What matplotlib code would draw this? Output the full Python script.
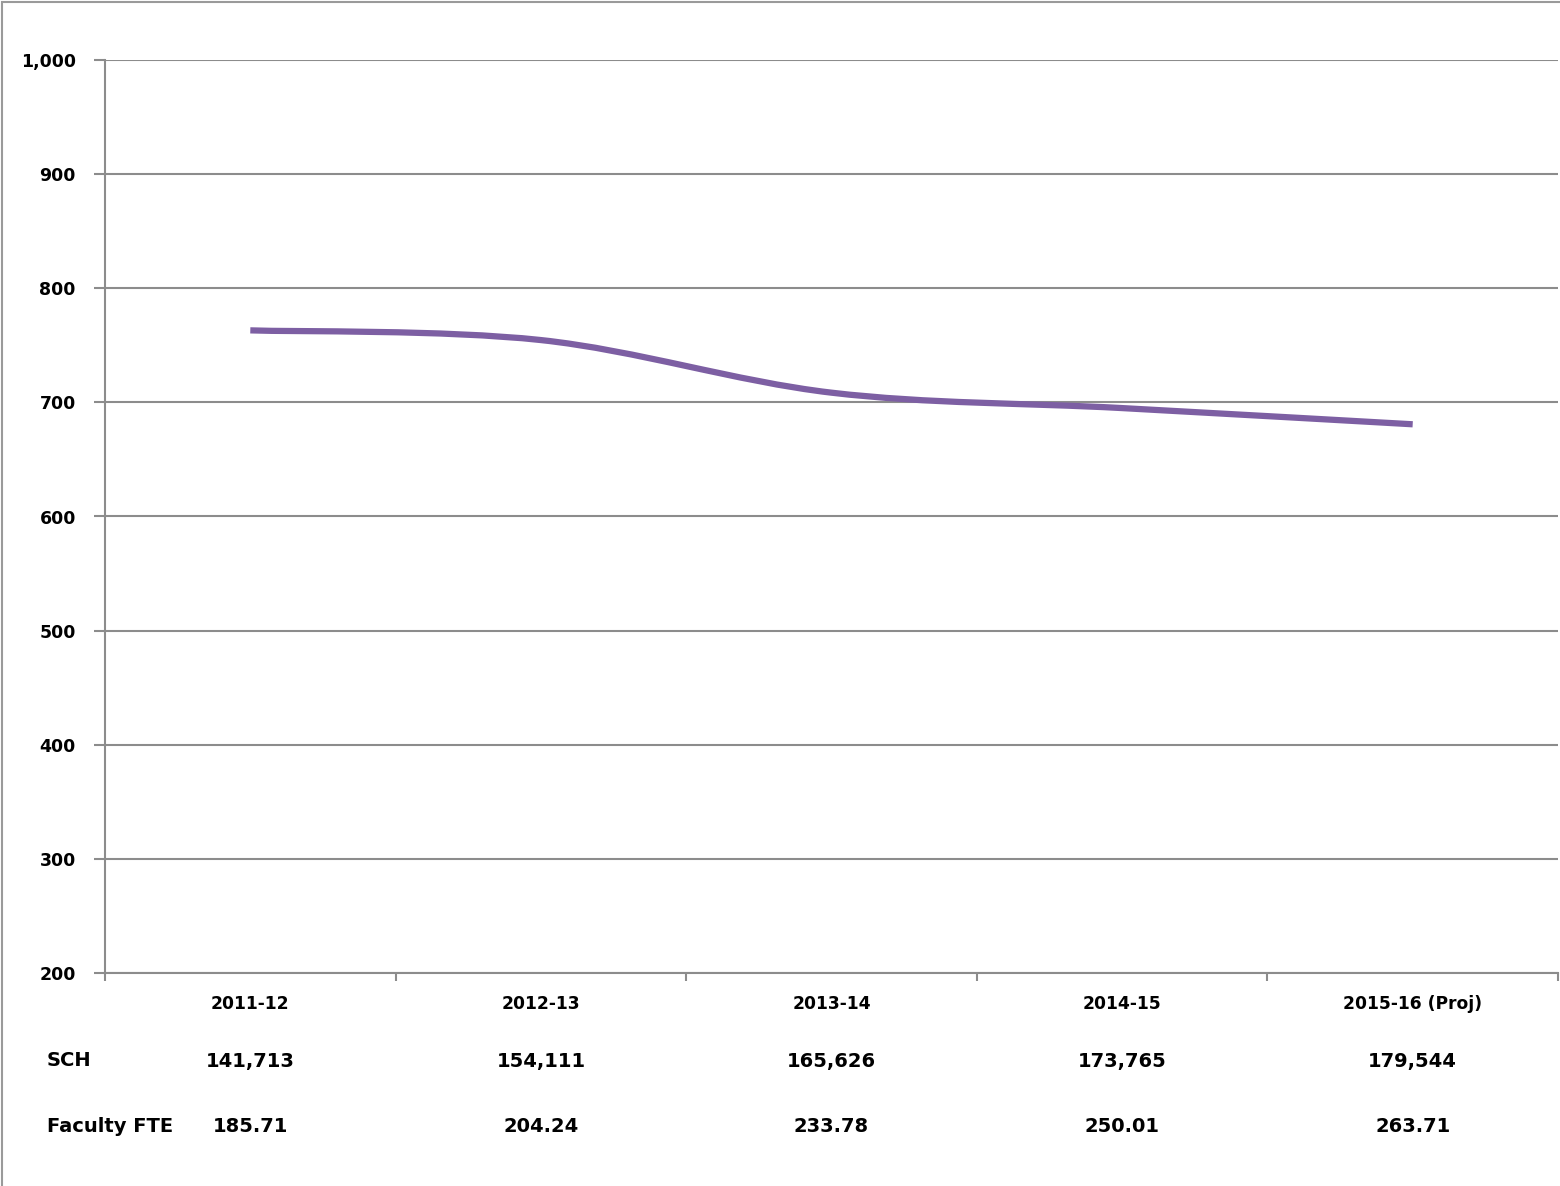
import matplotlib
matplotlib.use("Agg")
import matplotlib.pyplot as plt
from matplotlib.patches import Rectangle, PathPatch
from matplotlib.path import Path

categories = ["2011-12", "2012-13", "2013-14", "2014-15", "2015-16 (Proj)"]
sch_per_fte = [763.1, 754.6, 708.5, 695.0, 680.8]
sch_labels = ["141,713", "154,111", "165,626", "173,765", "179,544"]
fte_labels = ["185.71", "204.24", "233.78", "250.01", "263.71"]
row_names = ["SCH", "Faculty FTE"]
yticks = [200, 300, 400, 500, 600, 700, 800, 900, 1000]
ytick_labels = ["200", "300", "400", "500", "600", "700", "800", "900", "1,000"]

plt.rcParams['font.family'] = ['DejaVu Sans']
fig = plt.figure(figsize=(15.6, 11.86), dpi=100)
ax = fig.add_axes([105/1560, 1-973/1186, (1558-105)/1560, (973-60)/1186])

grid_c = "#8c8c8c"
line_c = "#7D5FA3"
x = list(range(1, len(categories) + 1))

# Smoothed line (Excel-style Bezier) through the data points
n = len(x)
verts = [(x[0], sch_per_fte[0])]
codes = [Path.MOVETO]
for i in range(n - 1):
    x0, y0 = x[max(i - 1, 0)], sch_per_fte[max(i - 1, 0)]
    x1, y1 = x[i], sch_per_fte[i]
    x2, y2 = x[i + 1], sch_per_fte[i + 1]
    x3, y3 = x[min(i + 2, n - 1)], sch_per_fte[min(i + 2, n - 1)]
    c1 = (x1 + (x2 - x0) / 6, y1 + (y2 - y0) / 6)
    c2 = (x2 - (x3 - x1) / 6, y2 - (y3 - y1) / 6)
    verts += [c1, c2, (x2, y2)]
    codes += [Path.CURVE4, Path.CURVE4, Path.CURVE4]
ax.add_patch(PathPatch(Path(verts, codes), facecolor="none", edgecolor=line_c,
                       lw=4.5, capstyle="butt", zorder=3))

ax.set_xlim(0.5, len(categories) + 0.5)
ax.set_ylim(200, 1000)
ax.set_yticks(yticks)
ax.set_yticklabels(ytick_labels, fontsize=12.5, fontweight="bold")
ax.yaxis.grid(True, color=grid_c, lw=1.5)
ax.set_axisbelow(True)
ax.set_xticks([i + 0.5 for i in range(0, len(categories) + 1)])
ax.set_xticklabels([])
ax.tick_params(axis="y", length=8, width=1.5, color=grid_c, pad=13)
ax.tick_params(axis="x", length=6, width=1.5, color=grid_c)
for s in ["top", "right"]:
    ax.spines[s].set_visible(False)
for s in ["left", "bottom"]:
    ax.spines[s].set_color(grid_c)
    ax.spines[s].set_linewidth(1.5)

trans = ax.get_xaxis_transform()
def yax(py):
    return (973 - py) / (973 - 60)

for xi, c in zip(x, categories):
    ax.text(xi, yax(1004), c, transform=trans, ha="center", va="center",
            fontsize=12.3, fontweight="bold", clip_on=False)
for xi, s in zip(x, sch_labels):
    ax.text(xi, yax(1061), s, transform=trans, ha="center", va="center",
            fontsize=14, fontweight="bold", clip_on=False)
for xi, f in zip(x, fte_labels):
    ax.text(xi, yax(1126), f, transform=trans, ha="center", va="center",
            fontsize=14, fontweight="bold", clip_on=False)
fig.text(47/1560, 1-1061/1186, row_names[0], ha="left", va="center",
         fontsize=14, fontweight="bold")
fig.text(47/1560, 1-1126/1186, row_names[1], ha="left", va="center",
         fontsize=14, fontweight="bold")

fig.patches.append(Rectangle((2/1560, -0.05), 1.2, 1 - 2/1186 + 0.05,
                             transform=fig.transFigure, fill=False,
                             edgecolor="#9a9a9a", lw=1.5))

fig.savefig("out.png", dpi=100)
